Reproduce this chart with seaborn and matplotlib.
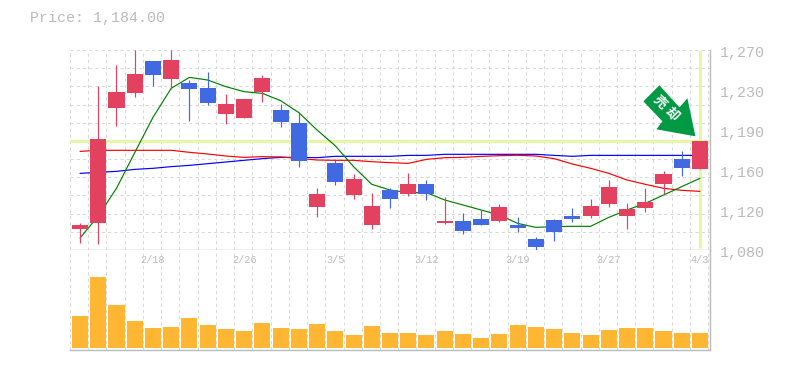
import matplotlib
matplotlib.use('Agg')
import matplotlib.pyplot as plt
from matplotlib.patches import Polygon
import numpy as np
import pandas as pd
import seaborn as sns

price_label = 'Price: 1,184.00'
signal_chars = ['売', '却']

# candles, red = up, blue = down
open_p = [1100, 1105.6, 1214.9, 1229.2, 1259.5, 1242.4, 1238.6, 1233.9, 1209.2, 1205.4, 1230.1, 1213,
          1200.6, 1120.9, 1162.6, 1132.3, 1103.7, 1137, 1133.2, 1142.7, 1105.6, 1107.5, 1109.4, 1107.5,
          1103.7, 1090.4, 1108.5, 1112.3, 1112.3, 1123.7, 1112.3, 1119.9, 1142.7, 1166.5, 1156.9]
close_p = [1103.7, 1185.5, 1230.1, 1247.2, 1246.2, 1260.5, 1233, 1219.7, 1218.7, 1223.5, 1243.4, 1201.6,
           1164.6, 1133.2, 1144.6, 1147.4, 1121.8, 1128.4, 1142.7, 1133.2, 1107.5, 1098, 1103.7, 1120.9,
           1100.9, 1082.8, 1097.1, 1109.4, 1121.8, 1139.8, 1119, 1125.6, 1152.2, 1157.9, 1184]
high_p = [1105.6, 1235.8, 1255.7, 1270, 1259.5, 1270, 1241.5, 1249.1, 1228.2, 1223.5, 1246.2, 1218.7,
          1211.1, 1138.9, 1165.5, 1152.2, 1134.2, 1138.9, 1153.2, 1146.5, 1130.3, 1115.1, 1118, 1123.7,
          1111.3, 1092.3, 1109.4, 1119.9, 1128.4, 1146.5, 1124.6, 1138.9, 1155.1, 1174, 1184]
low_p = [1086.6, 1085.7, 1197.8, 1225.4, 1235.8, 1233, 1202.6, 1217.8, 1199.7, 1205.4, 1220.6, 1196.9,
         1158.8, 1111.3, 1141.8, 1128.4, 1100, 1119.9, 1131.3, 1127.5, 1104.7, 1095.2, 1103.7, 1106.6,
         1097.1, 1079, 1088.5, 1106.6, 1110.4, 1120.9, 1100, 1116.1, 1133.2, 1150.3, 1156.9]

# moving averages
ma_short = [1091.4, 1112.3, 1138.6, 1172.5, 1206, 1233.6, 1244, 1241.5, 1235.2, 1230.4, 1228.8, 1221.9,
            1210.5, 1194, 1179, 1159.2, 1142.4, 1137, 1134.5, 1134.5, 1127.5, 1122.8, 1118, 1113.2,
            1105.3, 1101.5, 1102.2, 1102.5, 1102.5, 1111, 1118, 1124.3, 1132.2, 1140.2, 1148.1]
ma_mid = [1173.7, 1174.7, 1174.7, 1174.7, 1174.7, 1174.7, 1172.8, 1171.2, 1169.3, 1168, 1168.7, 1168.4,
          1167, 1165.5, 1165.2, 1165.2, 1163.9, 1163, 1162.3, 1166.1, 1167.7, 1168, 1169, 1169.6,
          1170, 1169.3, 1166.8, 1161.7, 1157.6, 1152.8, 1146.5, 1142.4, 1138.6, 1136.7, 1135.7]
ma_long = [1152.8, 1153.8, 1154.7, 1156.6, 1157.6, 1159.2, 1160.4, 1162, 1163.6, 1165.2, 1166.8, 1168,
           1168, 1167.7, 1169, 1169, 1169, 1169, 1169.9, 1169.9, 1170.9, 1170.9, 1170.9, 1170.9,
           1170.9, 1170.9, 1169.9, 1169, 1169.9, 1169.9, 1169.9, 1169.9, 1169.9, 1169.9, 1169.9]

volume = [32, 71, 43, 27, 20, 21, 30, 23, 19, 17, 25, 20, 19, 24, 17, 13, 22, 15,
          15, 13, 17, 14, 10, 14, 23, 21, 19, 15, 13, 18, 20, 20, 17, 15, 15]

date_pos = [4, 9, 14, 19, 24, 29, 34]
date_labels = ['2/18', '2/26', '3/5', '3/12', '3/19', '3/27', '4/3']
price_pos = [1267, 1229, 1191, 1153, 1115, 1077]
price_labels = ['1,270', '1,230', '1,190', '1,160', '1,120', '1,080']

RED = '#e2425f'
BLUE = '#4169e1'
AMBER = '#ffb733'
HILITE = '#e6f5a8'
TEXT = '#bbbbbb'
GRID = '#d8d8d8'
EDGE = '#bbbbbb'
ARROW = '#009944'
DASH = (0, (3, 3))

sns.set_style('white')
plt.rcParams['font.family'] = ['Liberation Mono', 'Noto Sans CJK JP', 'DejaVu Sans']

W, H = 785, 370
fig = plt.figure(figsize=(W / 100, H / 100), dpi=100)
ax = fig.add_axes([70 / W, 1 - 250 / H, 640 / W, 200 / H])
ax_v = fig.add_axes([70 / W, 1 - 350 / H, 640 / W, 100 / H])

df = pd.DataFrame({'i': np.arange(len(open_p)), 'o': open_p, 'c': close_p, 'h': high_p, 'l': low_p,
                   'short': ma_short, 'mid': ma_mid, 'long': ma_long, 'vol': volume})
colors = [RED if c >= o else BLUE for o, c in zip(open_p, close_p)]

xlim = (-0.55, 34.55)
xgrid = np.arange(-0.55, 34.5, 1)
ygrid = np.linspace(1080, 1270, 12)

# top panel
ax.set_xlim(*xlim)
ax.set_ylim(1080, 1270)
ax.set_axisbelow(True)
ax.set_xticks(xgrid)
ax.set_yticks(ygrid)
ax.grid(True, color=GRID, linestyle=DASH, linewidth=0.75)
ax.tick_params(length=0, labelbottom=False, labelleft=False)
ax.axhline(close_p[-1], color=HILITE, linewidth=2.3, zorder=1.5)
ax.vlines(34, 1082, 1270, color=HILITE, linewidth=2.3, zorder=1.5)

sns.lineplot(data=df, x='i', y='long', color='#0000ff', linewidth=0.85, ax=ax, zorder=2)
sns.lineplot(data=df, x='i', y='mid', color='#ff0000', linewidth=0.85, ax=ax, zorder=2.1)
sns.lineplot(data=df, x='i', y='short', color='#008000', linewidth=0.85, ax=ax, zorder=2.2)
ax.vlines(df['i'], df['l'], df['h'], colors=colors, linewidth=0.85, zorder=3)
ax.bar(df['i'], df['c'] - df['o'], bottom=df['o'], width=0.88, color=colors, linewidth=0, zorder=3.1)
ax.set_xlabel('')
ax.set_ylabel('')

for p, lab in zip(price_pos, price_labels):
    ax.annotate(lab, xy=(1, p), xycoords=ax.get_yaxis_transform(), xytext=(7.2, 0),
                textcoords='offset points', color=TEXT, fontsize=10.8,
                ha='left', va='center', annotation_clip=False)

# signal arrow, outline in pixels relative to its tip
tip_xy = (33.75, 1188)
tip = ax.transData.transform(tip_xy)
arrow_shape = np.array([(-36, 51), (-52, 35), (-33, 15), (-39, 7), (0, 0), (-8, 38), (-16, 29)], dtype=float)
ax.add_patch(Polygon(arrow_shape + tip, closed=True, transform=None, facecolor=ARROW,
                     edgecolor='none', zorder=5))
for ch, off in zip(signal_chars, [(-25.4, 24.7), (-16.7, 16)]):
    ax.annotate(ch, xy=tip_xy, xytext=off, textcoords='offset points', color='white',
                fontsize=9.5, fontweight='bold', rotation=-45, rotation_mode='anchor',
                ha='center', va='center', zorder=6, family=['Noto Sans CJK JP', 'DejaVu Sans'])

# volume panel
ax_v.set_axisbelow(True)
sns.barplot(data=df, x='i', y='vol', color=AMBER, saturation=1, width=0.88, native_scale=True, ax=ax_v,
            linewidth=0, zorder=3)
ax_v.set_xlim(*xlim)
ax_v.set_ylim(-2, 98)
ax_v.set_xticks(xgrid)
ax_v.set_yticks([])
ax_v.grid(True, axis='x', color=GRID, linestyle=DASH, linewidth=0.75)
ax_v.tick_params(length=0, labelbottom=False, labelleft=False)
ax_v.set_xlabel('')
ax_v.set_ylabel('')

for i, lab in zip(date_pos, date_labels):
    ax_v.annotate(lab, xy=(i, 1), xycoords=ax_v.get_xaxis_transform(), xytext=(0, -7.2),
                  textcoords='offset points', color=TEXT, fontsize=7.4, ha='center', va='center',
                  annotation_clip=False, zorder=6)

for a in (ax, ax_v):
    for name, s in a.spines.items():
        s.set_visible(name in ('bottom', 'right'))
        s.set_color(EDGE)
        s.set_linewidth(1.0)

fig.text(30 / W, 1 - 18 / H, price_label, color=TEXT, fontsize=10.8, ha='left', va='center')

fig.savefig('out.png', dpi=100)
